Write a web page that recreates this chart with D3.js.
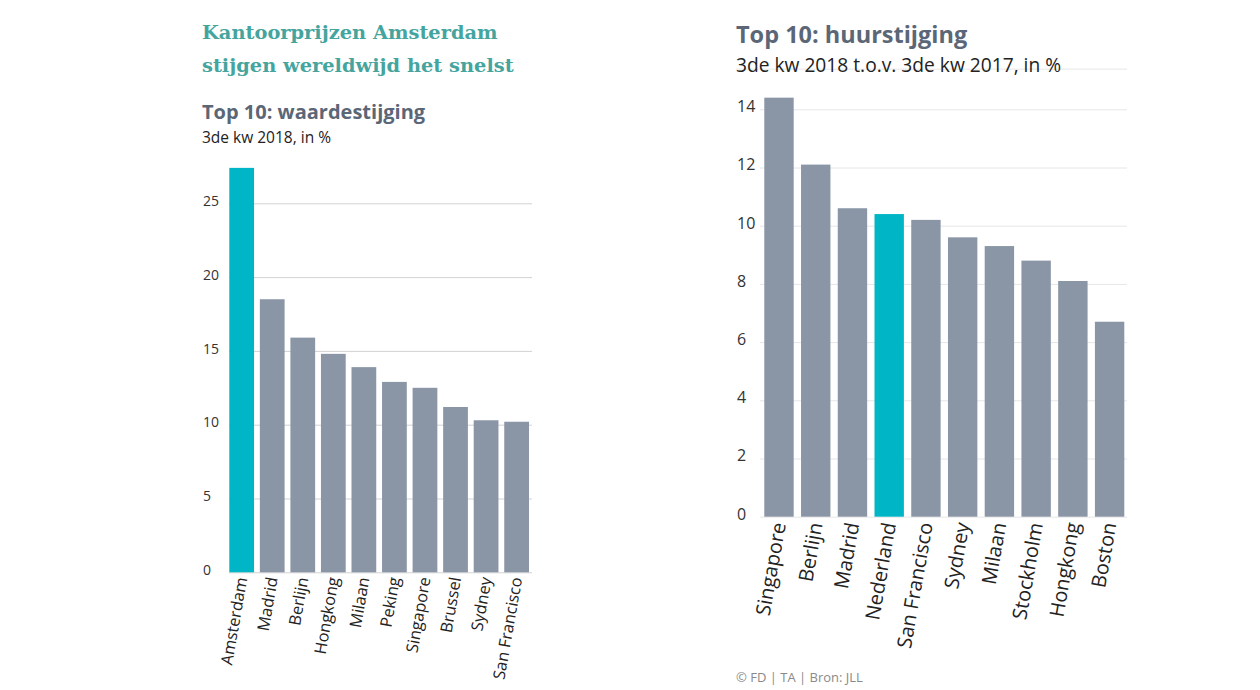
<!DOCTYPE html>
<html>
<head>
<meta charset="utf-8">
<script src="https://cdn.jsdelivr.net/npm/d3@7"></script>
<style>
  body { margin: 0; background: #fff; }
  svg text { font-family: "Open Sans", Lato, sans-serif; }
</style>
</head>
<body>
<svg id="chart" width="1260" height="690"></svg>
<script>
// waardestijging (links)
const leftCities = ['Amsterdam', 'Madrid', 'Berlijn', 'Hongkong', 'Milaan', 'Peking', 'Singapore', 'Brussel', 'Sydney', 'San Francisco']
const leftValues = [27.4, 18.5, 15.9, 14.8, 13.9, 12.9, 12.5, 11.2, 10.3, 10.2]
const leftTicks = [0, 5, 10, 15, 20, 25]

// huurstijging (rechts)
const rightCities = ['Singapore', 'Berlijn', 'Madrid', 'Nederland', 'San Francisco', 'Sydney', 'Milaan', 'Stockholm', 'Hongkong', 'Boston']
const rightValues = [14.4, 12.1, 10.6, 10.4, 10.2, 9.6, 9.3, 8.8, 8.1, 6.7]
const rightTicks = [0, 2, 4, 6, 8, 10, 12, 14]

const highlight = ['Amsterdam', 'Nederland']
const teal = '#00b5c5'
const grey = '#8a95a6'

const svg = d3.select('#chart')

// koppen
svg.append('text').attr('x', 202).attr('y', 39)
  .text('Kantoorprijzen Amsterdam')
  .style('font-family', '"DejaVu Serif", serif').style('font-weight', 'bold')
  .style('font-size', '19.4px').style('fill', '#45a59e')
svg.append('text').attr('x', 202).attr('y', 72)
  .text('stijgen wereldwijd het snelst')
  .style('font-family', '"DejaVu Serif", serif').style('font-weight', 'bold')
  .style('font-size', '19.4px').style('fill', '#45a59e')

svg.append('text').attr('x', 202).attr('y', 119).text('Top 10: waardestijging')
  .style('font-weight', 'bold').style('font-size', '20px').style('fill', '#5b6677')
svg.append('text').attr('x', 202).attr('y', 143).text('3de kw 2018, in %')
  .style('font-size', '15.5px').style('fill', '#222')

svg.append('text').attr('x', 736).attr('y', 43).text('Top 10: huurstijging')
  .style('font-weight', 'bold').style('font-size', '23.5px').style('fill', '#5b6677')

function drawChart(cfg) {
  const x = d3.scaleBand().domain(cfg.cities).range(cfg.xRange).paddingInner(cfg.pad).paddingOuter(0)
  const y = d3.scaleLinear().domain(cfg.yDomain).range(cfg.yRange)
  const g = svg.append('g')

  // rasterlijnen + labels
  const axis = d3.axisLeft(y).tickValues(cfg.ticks).tickSize(-(cfg.gridEnd - cfg.gridStart))
  const ax = g.append('g').attr('transform', 'translate(' + cfg.gridStart + ',0)').call(axis)
  ax.select('.domain').remove()
  ax.selectAll('line').attr('stroke', cfg.gridColor)
  ax.selectAll('text')
    .attr('x', cfg.labelX - cfg.gridStart).attr('dy', '0.15em')
    .attr('text-anchor', 'start')
    .style('font-family', '"Open Sans", sans-serif')
    .style('font-size', cfg.tickSize).style('fill', '#333')

  if (cfg.topLine != null) {
    g.append('line').attr('x1', cfg.topLineStart).attr('x2', cfg.gridEnd)
      .attr('y1', y(cfg.topLine)).attr('y2', y(cfg.topLine)).attr('stroke', cfg.gridColor)
  }

  g.append('g').selectAll('rect').data(cfg.values).join('rect')
    .attr('x', (d, i) => x(cfg.cities[i]))
    .attr('width', x.bandwidth())
    .attr('y', d => y(d))
    .attr('height', d => y(0) - y(d))
    .attr('fill', (d, i) => highlight.includes(cfg.cities[i]) ? teal : grey)

  g.append('g').selectAll('text').data(cfg.cities).join('text')
    .attr('transform', d => 'translate(' + (x(d) + x.bandwidth() / 2) + ',' + (y(0) + cfg.labelGap) + ') rotate(-80)')
    .attr('text-anchor', 'end')
    .attr('dy', '0.35em')
    .style('font-size', cfg.catSize).style('fill', '#222')
    .text(d => d)
}

drawChart({
  cities: leftCities, values: leftValues, ticks: leftTicks,
  xRange: [229.3, 529], pad: 0.19,
  yDomain: [0, 25], yRange: [572.3, 203.3],
  gridStart: 229, gridEnd: 532, labelX: 203,
  gridColor: '#d2d2d2', tickSize: '14px', catSize: '16.3px', labelGap: 5
})

drawChart({
  cities: rightCities, values: rightValues, ticks: rightTicks,
  xRange: [764.3, 1124.3], pad: 0.2,
  yDomain: [0, 14], yRange: [516.7, 109.3],
  gridStart: 760, gridEnd: 1127, labelX: 737,
  gridColor: '#e6e6e6', tickSize: '16px', catSize: '20px', labelGap: 6,
  topLine: 15.38, topLineStart: 736
})

svg.append('text').attr('x', 736).attr('y', 72).text('3de kw 2018 t.o.v. 3de kw 2017, in %')
  .style('font-size', '19.2px').style('fill', '#222')

svg.append('text').attr('x', 736).attr('y', 682).text('© FD | TA | Bron: JLL')
  .style('font-size', '13px').style('fill', '#8a8a8a')
</script>
</body>
</html>
